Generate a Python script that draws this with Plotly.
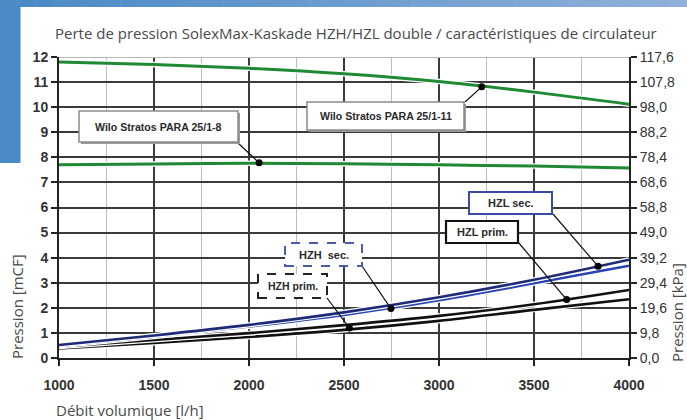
import plotly.graph_objects as go

# ---------------- data ----------------
flow = [1000, 1500, 2000, 2500, 3000, 3500, 4000]
wilo_11 = [11.8, 11.7, 11.55, 11.33, 11.02, 10.6, 10.12]
wilo_8 = [7.7, 7.73, 7.76, 7.74, 7.7, 7.65, 7.57]
hzl_sec = [0.52, 0.9, 1.32, 1.82, 2.42, 3.12, 3.92]
hzh_sec = [0.48, 0.85, 1.26, 1.72, 2.3, 2.98, 3.68]
hzl_prim = [0.45, 0.72, 0.99, 1.31, 1.68, 2.14, 2.71]
hzh_prim = [0.38, 0.6, 0.84, 1.12, 1.48, 1.92, 2.34]

x_ticks = [1000, 1500, 2000, 2500, 3000, 3500, 4000]
y_ticks = list(range(0, 13))
kpa_ticks = [round(v * 9.8, 1) for v in y_ticks]
kpa_labels = [f"{v:.1f}".replace(".", ",") for v in kpa_ticks]

# callout marker points (x, y) on curves
callout_pts_x = [2053, 3225, 3837, 3672, 2747, 2528]
callout_pts_y = [7.78, 10.81, 3.66, 2.33, 1.97, 1.2]
callout_text = ["Wilo Stratos PARA 25/1-8", "Wilo Stratos PARA 25/1-11",
                "HZL sec.", "HZL prim.", "HZH  sec.", "HZH prim."]

# ---------------- layout geometry ----------------
W, H = 687, 420
ML, MR, MT, MB = 59, 58, 57, 62
PW, PH = W - ML - MR, H - MT - MB


def dx(px):
    return 1000 + (px - ML) / PW * 3000


def dy(py):
    return (H - MB - py) / PH * 12


def pxp(px):
    return (px - ML) / PW


def pyp(py):
    return (H - MB - py) / PH


fig = go.Figure()


def add_line(y, color, width):
    fig.add_trace(go.Scatter(x=flow, y=y, mode="lines", line=dict(color="white", width=width + 2.5, shape="spline"),
                             hoverinfo="skip", showlegend=False))
    fig.add_trace(go.Scatter(x=flow, y=y, mode="lines", line=dict(color=color, width=width, shape="spline"),
                             showlegend=False))


GREEN = "#1f8a34"
add_line(wilo_11, GREEN, 3)
add_line(wilo_8, GREEN, 3)
add_line(hzh_prim, "#111111", 2.6)
add_line(hzl_prim, "#111111", 2.6)
add_line(hzh_sec, "#2a44b4", 2.6)
add_line(hzl_sec, "#1c2a78", 2.6)

fig.add_trace(go.Scatter(x=callout_pts_x, y=callout_pts_y, mode="markers",
                         marker=dict(color="black", size=7), showlegend=False))

# invisible trace for the right axis
fig.add_trace(go.Scatter(x=[1000], y=[0], yaxis="y2", mode="markers", marker=dict(opacity=0), showlegend=False,
                         hoverinfo="skip"))

shapes = []
annotations = []

# background decoration (gradient band + left block)
n = 40
c0 = (0x4a, 0x8a, 0xc7)
c1 = (0x8f, 0xb0, 0xd8)
for i in range(n):
    t = i / (n - 1)
    col = "rgb(%d,%d,%d)" % tuple(int(c0[k] + (c1[k] - c0[k]) * t) for k in range(3))
    shapes.append(dict(type="rect", xref="paper", yref="paper", x0=pxp(i * W / n), x1=pxp((i + 1) * W / n + 0.5),
                       y0=pyp(7), y1=pyp(0), fillcolor=col, line=dict(width=0), layer="below"))
shapes.append(dict(type="rect", xref="paper", yref="paper", x0=pxp(0), x1=pxp(20.5), y0=pyp(163), y1=pyp(6),
                   fillcolor="rgb(74,138,199)", line=dict(width=0), layer="below"))

# top border light line
shapes.append(dict(type="line", xref="paper", yref="y", x0=0, x1=1, y0=12, y1=12,
                   line=dict(color="#b8b8b8", width=2), layer="above"))

# callout boxes (pixel boxes) and leader lines
boxes = [
    ((79, 238, 111, 142), "#8a8a8a", "solid", 1.5, (237, 142)),
    ((307, 464, 102, 130), "#8a8a8a", "solid", 1.5, (465, 102)),
    ((469, 552, 192, 214), "#3a4aa8", "solid", 2, (553, 214)),
    ((446, 518, 221, 243), "#111111", "solid", 2.2, (518, 242)),
    ((285, 362, 243, 266), "#4a5ab0", "dash", 2, (362, 266)),
    ((258, 327, 274, 298), "#222222", "dash", 2, (327, 298)),
]
sizes = [10.6, 10.6, 11, 11, 11, 10.5]
for (bx, bcol, dash, bw, corner), txt, px, py, fs in zip(boxes, callout_text, callout_pts_x, callout_pts_y, sizes):
    x0, x1, y0, y1 = bx
    shapes.append(dict(type="line", xref="x", yref="y", x0=dx(corner[0]), y0=dy(corner[1]), x1=px, y1=py,
                       line=dict(color="#111111", width=1.2), layer="above"))
    if dash == "solid" and bcol == "#8a8a8a":
        shapes.append(dict(type="rect", xref="x", yref="y", x0=dx(x0 + 2), x1=dx(x1 + 2), y0=dy(y1 + 2), y1=dy(y0 + 2),
                           fillcolor="#9a9a9a", line=dict(width=0), layer="above"))
    shapes.append(dict(type="rect", xref="x", yref="y", x0=dx(x0), x1=dx(x1), y0=dy(y1), y1=dy(y0),
                       fillcolor="white", line=dict(color=bcol, width=bw, dash=dash), layer="above"))
    annotations.append(dict(x=dx((x0 + x1) / 2), y=dy((y0 + y1) / 2), xref="x", yref="y", text="<b>%s</b>" % txt,
                            xanchor="center", yanchor="middle",
                            showarrow=False, font=dict(family="Liberation Sans, Arial", size=fs, color="#2a2a2a")))

# titles
TFONT = dict(family="Open Sans", size=15, color="#4a4a4a")
annotations.append(dict(x=pxp(356), y=pyp(33), xref="paper", yref="paper", xanchor="center", yanchor="middle",
                        text="Perte de pression SolexMax-Kaskade HZH/HZL double / caractéristiques de circulateur",
                        showarrow=False, font=TFONT))
annotations.append(dict(x=pxp(54), y=pyp(410), xref="paper", yref="paper", xanchor="left", yanchor="middle",
                        text="Débit volumique [l/h]", showarrow=False, font=TFONT))
annotations.append(dict(x=pxp(17), y=pyp(307), xref="paper", yref="paper", textangle=-90,
                        xanchor="center", yanchor="middle",
                        text="Pression [mCF]", showarrow=False, font=TFONT))
annotations.append(dict(x=pxp(677), y=pyp(313), xref="paper", yref="paper", textangle=-90,
                        xanchor="center", yanchor="middle",
                        text="Pression [kPa]", showarrow=False, font=TFONT))

tickfont = dict(family="Liberation Sans, Arial", size=14, color="#333333")
GRID = "#3a3a3a"

fig.update_layout(
    width=W, height=H, margin=dict(l=ML, r=MR, t=MT, b=MB),
    paper_bgcolor="white", plot_bgcolor="white",
    shapes=shapes, annotations=annotations,
    xaxis=dict(range=[1000, 4000], tickvals=x_ticks, ticktext=["<b>%d</b>" % v for v in x_ticks],
               tickfont=tickfont, showgrid=True, gridcolor=GRID, gridwidth=1.5, ticklabelstandoff=7,
               minor=dict(dtick=250, tick0=1000, showgrid=True, gridcolor="#bdbdbd", gridwidth=1.2),
               showline=True, linecolor="#222222", linewidth=2, ticks="outside", ticklen=6, tickwidth=1.5,
               tickcolor="#222222", zeroline=False, fixedrange=True),
    yaxis=dict(range=[0, 12], tickvals=y_ticks, ticktext=["<b>%d</b>" % v for v in y_ticks],
               tickfont=tickfont, showgrid=True, gridcolor=GRID, gridwidth=1.5,
               showline=True, linecolor="#222222", linewidth=2, ticks="outside", ticklen=6, tickwidth=1.5,
               tickcolor="#222222", zeroline=False, fixedrange=True),
    yaxis2=dict(range=[0, 117.6], overlaying="y", side="right", tickvals=kpa_ticks, ticktext=kpa_labels,
                tickfont=dict(family="Liberation Sans, Arial", size=14, color="#333333"),
                showgrid=False, showline=True, linecolor="#222222", linewidth=2, ticks="outside", ticklen=6,
                tickwidth=1.5, tickcolor="#222222", zeroline=False, fixedrange=True),
)

fig.write_html("out.html", config={"displayModeBar": False},
               post_script="document.body.style.margin='0';document.body.style.overflow='hidden';")
